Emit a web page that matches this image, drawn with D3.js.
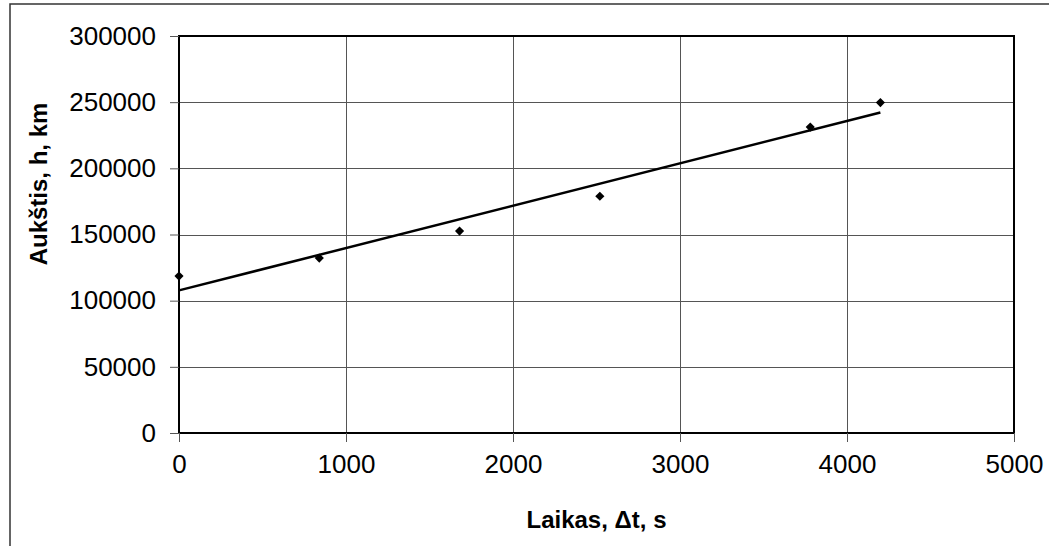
<!DOCTYPE html>
<html>
<head>
<meta charset="utf-8">
<script src="https://cdn.jsdelivr.net/npm/d3@7"></script>
<style>
  html, body { margin: 0; padding: 0; background: #fff; }
  svg { display: block; }
  text { font-family: "Liberation Sans", Arial, sans-serif; fill: #000; }
</style>
</head>
<body>
<svg id="chart" width="1049" height="546"></svg>
<script>
// Data
const times = [0, 840, 1680, 2520, 3780, 4200];           // Laikas, Δt, s
const heights = [118600, 132200, 152600, 178900, 231200, 249700]; // Aukštis, h, km
const xTicks = [0, 1000, 2000, 3000, 4000, 5000];
const yTicks = [0, 50000, 100000, 150000, 200000, 250000, 300000];
const xTitle = "Laikas, Δt, s";
const yTitle = "Aukštis, h, km";

const svg = d3.select("#chart");
const W = 1049, H = 546;
const plot = { left: 179, right: 1014, top: 36, bottom: 433 };

const x = d3.scaleLinear().domain([0, 5000]).range([plot.left, plot.right]);
const y = d3.scaleLinear().domain([0, 300000]).range([plot.bottom, plot.top]);

// outer frame (left and top edges visible)
svg.append("path")
  .attr("d", `M10,${H} L10,4 L${W},4`)
  .attr("fill", "none").attr("stroke", "#333").attr("stroke-width", 1.5);

// gridlines
svg.append("g").selectAll("line").data(yTicks.filter(d => d > 0 && d < 300000)).join("line")
  .attr("x1", plot.left).attr("x2", plot.right)
  .attr("y1", d => Math.round(y(d)) + 0.5).attr("y2", d => Math.round(y(d)) + 0.5)
  .attr("stroke", "#555").attr("stroke-width", 1);
svg.append("g").selectAll("line").data(xTicks.filter(d => d > 0 && d < 5000)).join("line")
  .attr("y1", plot.top).attr("y2", plot.bottom)
  .attr("x1", d => Math.round(x(d)) + 0.5).attr("x2", d => Math.round(x(d)) + 0.5)
  .attr("stroke", "#555").attr("stroke-width", 1);

// plot border
svg.append("rect")
  .attr("x", plot.left).attr("y", plot.top)
  .attr("width", plot.right - plot.left).attr("height", plot.bottom - plot.top)
  .attr("fill", "none").attr("stroke", "#000").attr("stroke-width", 2);

// axes
const yAxis = d3.axisLeft(y).tickValues(yTicks).tickSize(9).tickPadding(14).tickFormat(d3.format("d"));
const gy = svg.append("g").attr("transform", `translate(${plot.left},0)`).call(yAxis);
gy.select(".domain").remove();
gy.selectAll(".tick line").attr("stroke", "#555").attr("stroke-width", 1);
gy.selectAll(".tick text").attr("font-size", 26).attr("font-family", "Liberation Sans, Arial, sans-serif").attr("fill", "#000");

const xAxis = d3.axisBottom(x).tickValues(xTicks).tickSize(9).tickPadding(13).tickFormat(d3.format("d"));
const gx = svg.append("g").attr("transform", `translate(0,${plot.bottom})`).call(xAxis);
gx.select(".domain").remove();
gx.selectAll(".tick line").attr("stroke", "#555").attr("stroke-width", 1);
gx.selectAll(".tick text").attr("font-size", 26).attr("font-family", "Liberation Sans, Arial, sans-serif").attr("fill", "#000");

// linear trend line (least squares from the data)
const mx = d3.mean(times), my = d3.mean(heights);
const sxy = d3.sum(times, (t, i) => (t - mx) * (heights[i] - my));
const sxx = d3.sum(times, t => (t - mx) * (t - mx));
const slope = sxy / sxx, icpt = my - slope * mx;
const trend = [d3.min(times), d3.max(times)].map(t => [t, icpt + slope * t]);
svg.append("path")
  .datum(trend)
  .attr("d", d3.line().x(d => x(d[0])).y(d => y(d[1])))
  .attr("fill", "none").attr("stroke", "#000").attr("stroke-width", 2.5);

// markers (diamonds)
const diamond = d3.symbol().type(d3.symbolSquare).size(42);
svg.append("g").selectAll("path").data(times).join("path")
  .attr("d", diamond)
  .attr("transform", (t, i) => `translate(${x(t)},${y(heights[i])}) rotate(45)`)
  .attr("fill", "#000");

// axis titles
svg.append("text")
  .attr("x", (plot.left + plot.right) / 2).attr("y", 528)
  .attr("text-anchor", "middle").attr("font-size", 24).attr("font-weight", "bold")
  .text(xTitle);
svg.append("text")
  .attr("transform", `translate(47,184) rotate(-90)`)
  .attr("text-anchor", "middle").attr("font-size", 24).attr("font-weight", "bold")
  .text(yTitle);
</script>
</body>
</html>
